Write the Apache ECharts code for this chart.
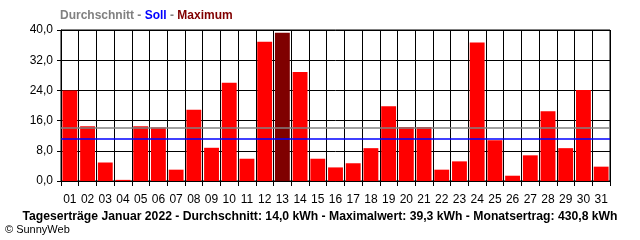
<!DOCTYPE html>
<html><head><meta charset="utf-8">
<script src="https://cdn.jsdelivr.net/npm/echarts@6/dist/echarts.min.js"></script>
<style>html,body{margin:0;padding:0;background:#fff}#c{width:640px;height:240px}</style>
</head><body><div id="c"></div>
<script>
var days = ['01','02','03','04','05','06','07','08','09','10','11','12','13','14','15','16','17','18','19','20','21','22','23','24','25','26','27','28','29','30','31'];
var yields = [24.0,14.5,4.9,0.3,14.5,14.2,3.0,18.9,8.8,26.0,5.9,36.9,39.3,28.9,5.9,3.6,4.7,8.7,19.8,14.3,14.3,3.0,5.2,36.7,10.8,1.4,6.8,18.5,8.7,24.1,3.8];
var average = 14.0;
var target = 11.3;
var yTicks = [0, 8, 16, 24, 32, 40];
var bottomText = 'Tageserträge Januar 2022 - Durchschnitt: 14,0 kWh - Maximalwert: 39,3 kWh - Monatsertrag: 430,8 kWh';

var maxVal = Math.max.apply(null, yields);
var fontFam = '"Liberation Sans", Arial, sans-serif';
var chart = echarts.init(document.getElementById('c'), null, {renderer: 'canvas'});
chart.setOption({
  animation: false,
  backgroundColor: '#fff',
  title: [
    {
      left: 60, top: 10, padding: 0,
      text: '{a|Durchschnitt} {s|-} {b|Soll} {s|-} {c|Maximum}',
      textStyle: {
        fontFamily: fontFam, fontSize: 12, fontWeight: 'bold',
        rich: {
          a: {color: '#808080', fontFamily: fontFam, fontSize: 12, fontWeight: 'bold'},
          s: {color: '#808080', fontFamily: fontFam, fontSize: 12, fontWeight: 'bold'},
          b: {color: '#0000ff', fontFamily: fontFam, fontSize: 12, fontWeight: 'bold'},
          c: {color: '#800000', fontFamily: fontFam, fontSize: 12, fontWeight: 'bold'}
        }
      }
    },
    {
      left: 'center', top: 211, padding: 0,
      text: bottomText,
      textStyle: {fontFamily: fontFam, fontSize: 12.2, fontWeight: 'bold', color: '#000'}
    },
    {
      left: 5, top: 224, padding: 0,
      text: '© SunnyWeb',
      textStyle: {fontFamily: fontFam, fontSize: 11, fontWeight: 'normal', color: '#000'}
    }
  ],
  grid: {left: 61, right: 30, top: 30, bottom: 59, show: true, borderColor: '#000', borderWidth: 1, backgroundColor: 'transparent'},
  xAxis: {
    type: 'category',
    data: days,
    boundaryGap: true,
    axisLine: {show: true, lineStyle: {color: '#000', width: 1}},
    axisTick: {show: true, length: 5, lineStyle: {color: '#000'}, interval: 0},
    axisLabel: {interval: 0, color: '#000', fontFamily: fontFam, fontSize: 12, margin: 13},
    splitLine: {show: true, interval: 0, lineStyle: {color: '#000', width: 1}}
  },
  yAxis: {
    type: 'value',
    min: yTicks[0], max: yTicks[yTicks.length - 1], interval: yTicks[1] - yTicks[0],
    axisLine: {show: true, lineStyle: {color: '#000', width: 1}},
    axisTick: {show: true, length: 4, lineStyle: {color: '#000'}},
    axisLabel: {color: '#000', fontFamily: fontFam, fontSize: 12, margin: 8,
      formatter: function (v) { return v.toFixed(1).replace('.', ','); }},
    splitLine: {show: true, lineStyle: {color: '#000', width: 1}}
  },
  series: [{
    type: 'bar',
    data: yields.map(function (v) {
      return v === maxVal ? {value: v, itemStyle: {color: '#7f0000'}} : v;
    }),
    itemStyle: {color: '#ff0000'},
    barCategoryGap: '16%',
    markLine: {
      silent: true,
      symbol: ['none', 'none'],
      label: {show: false},
      z: 10,
      data: [
        {yAxis: average, lineStyle: {color: '#808080', width: 1.5, type: 'solid'}},
        {yAxis: target, lineStyle: {color: '#0000ff', width: 1.5, type: 'solid'}}
      ]
    }
  }]
});
</script>
</body></html>
